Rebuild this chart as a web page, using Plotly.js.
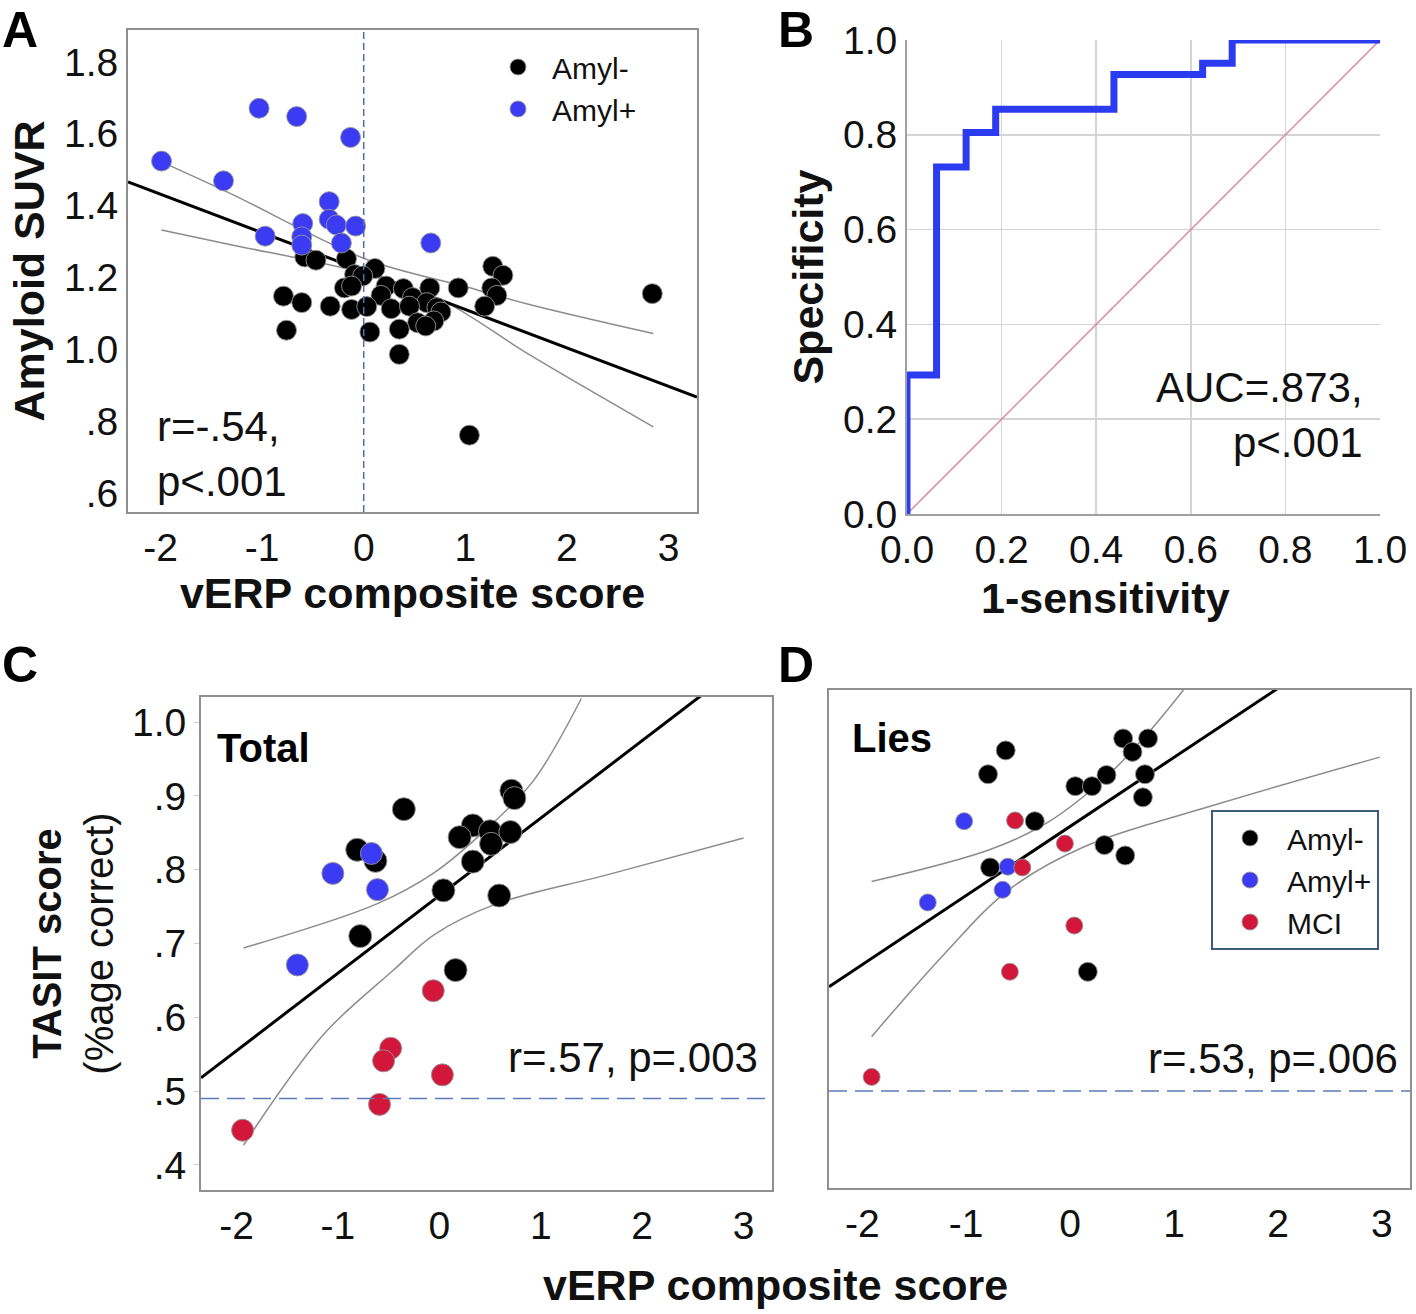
<!DOCTYPE html>
<html><head><meta charset="utf-8">
<script src="https://cdn.plot.ly/plotly-3.0.1.min.js"></script>
<style>html,body{margin:0;padding:0;background:#fff}</style>
</head><body><div id="chart" style="width:1416px;height:1314px"></div>
<script>
// ---------- Panel A : vERP composite vs Amyloid SUVR ----------
const amylNegXA = [-0.58,-0.47,-0.17,0.11,-0.09,-0.01,-0.19,-0.12,0.22,0.17,0.39,0.48,0.65,0.93,0.62,0.72,0.76,
  -0.79,-0.61,-0.33,-0.12,0.03,0.27,0.45,0.53,0.69,0.61,-0.76,0.06,0.35,0.35,1.27,1.37,1.26,1.31,1.19,2.84,1.04];
const amylNegYA = [1.257,1.248,1.252,1.225,1.208,1.204,1.171,1.176,1.176,1.150,1.169,1.144,1.171,1.171,1.130,1.116,1.104,
  1.148,1.130,1.120,1.111,1.119,1.113,1.120,1.074,1.079,1.065,1.053,1.048,1.056,0.986,1.231,1.206,1.171,1.150,1.120,1.155,0.761];
const amylPosXA = [-1.99,-1.03,-0.66,-0.13,-1.38,-0.34,-0.34,-0.27,-0.60,-0.08,-0.97,-0.61,-0.61,-0.22,0.66];
const amylPosYA = [1.524,1.671,1.648,1.590,1.469,1.411,1.362,1.346,1.350,1.343,1.315,1.313,1.290,1.296,1.296];
const fitXA = [-2.32, 3.28];
const fitYA = [1.466, 0.867];
const ciUpXA = [-1.99,-1.32,0.03,0.98,1.63,2.85];
const ciUpYA = [1.522,1.435,1.250,1.176,1.125,1.044];
const ciLoXA = [-1.99,-1.32,0.03,0.78,1.63,2.85];
const ciLoYA = [1.332,1.292,1.210,1.135,0.985,0.784];
const refLineXA = 0;
const yTickValsA = [0.6,0.8,1.0,1.2,1.4,1.6,1.8];
const yTickTextA = ['.6','.8','1.0','1.2','1.4','1.6','1.8'];
const xTickVals = [-2,-1,0,1,2,3];
const xTickText = ['-2','-1','0','1','2','3'];

// ---------- Panel B : ROC ----------
const rocX = [0, 0.0625, 0.125, 0.1875, 0.4375, 0.625, 0.6875, 1.0];
const rocY = [0, 0.293, 0.732, 0.805, 0.854, 0.927, 0.951, 1.0];
const diagX = [0, 1];
const diagY = [0, 1];
const rocTicks = [0,0.2,0.4,0.6,0.8,1.0];

// ---------- Panel C : Total ----------
const amylNegXC = [0.71,0.74,-0.35,0.33,0.50,0.70,0.20,0.51,-0.81,-0.63,0.33,0.04,0.59,-0.78,0.16];
const amylNegYC = [0.907,0.897,0.882,0.860,0.852,0.851,0.844,0.835,0.827,0.812,0.811,0.772,0.765,0.710,0.664];
const amylPosXC = [-0.67,-1.05,-0.61,-1.40];
const amylPosYC = [0.822,0.795,0.773,0.671];
const mciXC = [-0.06,-0.48,-0.55,0.03,-0.59,-1.94];
const mciYC = [0.636,0.558,0.541,0.522,0.482,0.447];
const fitXC = [-2.35, 2.62];
const fitYC = [0.518, 1.040];
const ciUpXC = [-1.93,-0.61,-0.05,0.48,0.93,1.40];
const ciUpYC = [0.694,0.754,0.796,0.857,0.921,1.032];
const ciLoXC = [-1.93,-1.14,-0.46,-0.05,0.55,1.68,3.00];
const ciLoYC = [0.427,0.577,0.663,0.712,0.753,0.794,0.843];
const chanceC = 0.49;
const yTickValsC = [0.4,0.5,0.6,0.7,0.8,0.9,1.0];
const yTickTextC = ['.4','.5','.6','.7','.8','.9','1.0'];

// ---------- Panel D : Lies ----------
const amylNegXD = [0.51,0.75,0.60,-0.62,-0.79,0.72,0.35,0.05,0.21,0.70,-0.34,0.33,0.53,-0.77,0.17];
const amylNegYD = [0.973,0.973,0.955,0.957,0.925,0.925,0.924,0.909,0.909,0.894,0.862,0.830,0.816,0.800,0.660];
const amylPosXD = [-1.02,-0.60,-0.65,-1.37];
const amylPosYD = [0.862,0.801,0.770,0.753];
const mciXD = [-0.53,-0.05,-0.46,0.04,-0.58,-1.91];
const mciYD = [0.863,0.832,0.800,0.722,0.660,0.519];
const fitXD = [-2.32, 2.05];
const fitYD = [0.640, 1.045];
const ciUpXD = [-1.91,-0.77,-0.22,0.36,0.76,1.09];
const ciUpYD = [0.781,0.824,0.860,0.923,0.982,1.038];
const ciLoXD = [-1.91,-1.21,-0.59,0.14,1.42,2.98];
const ciLoYD = [0.573,0.684,0.770,0.828,0.885,0.948];
const chanceD = 0.5;

// ---------- styling ----------
const FONT = 'Liberation Sans, Arial, Helvetica, sans-serif';
const W = 1416, H = 1314;
const BLACK = '#000000', BLUE = '#3b3bf4', RED = '#d3173b';
const GRAYCI = '#8c8c8c';
const dotLine = {color:'rgba(150,150,150,0.9)', width:1};
const px = (a,b)=>[a/W, b/W];
const py = (top,bottom)=>[1-bottom/H, 1-top/H];

function pts(x,y,xa,ya,color,size,name,legend,show){
  return {x:x,y:y,xaxis:xa,yaxis:ya,type:'scatter',mode:'markers',name:name,
    legend:legend, showlegend:show,
    marker:{color:color,size:size,line:dotLine}, hoverinfo:'x+y'};
}
function ln(x,y,xa,ya,color,width,shape){
  return {x:x,y:y,xaxis:xa,yaxis:ya,type:'scatter',mode:'lines',showlegend:false,
    line:{color:color,width:width,shape:shape||'linear',smoothing:1}, hoverinfo:'skip'};
}

const traces = [
  // A
  ln(ciUpXA,ciUpYA,'x','y',GRAYCI,1.5,'spline'),
  ln(ciLoXA,ciLoYA,'x','y',GRAYCI,1.5,'spline'),
  ln(fitXA,fitYA,'x','y','#000',3),
  pts(amylNegXA,amylNegYA,'x','y',BLACK,20,'Amyl-','legend',true),
  pts(amylPosXA,amylPosYA,'x','y',BLUE,20,'Amyl+','legend',true),
  // B
  ln(diagX,diagY,'x2','y2','#d98a9b',1.5),
  {x:rocX,y:rocY,xaxis:'x2',yaxis:'y2',type:'scatter',mode:'lines',showlegend:false,
    line:{color:'#2b3cf0',width:7,shape:'vh'},hoverinfo:'x+y'},
  // C
  ln(ciUpXC,ciUpYC,'x3','y3',GRAYCI,1.5,'spline'),
  ln(ciLoXC,ciLoYC,'x3','y3',GRAYCI,1.5,'spline'),
  ln(fitXC,fitYC,'x3','y3','#000',3),
  pts(amylNegXC,amylNegYC,'x3','y3',BLACK,23,'Amyl-','legend',false),
  pts(amylPosXC,amylPosYC,'x3','y3',BLUE,22,'Amyl+','legend',false),
  pts(mciXC,mciYC,'x3','y3',RED,22,'MCI','legend',false),
  // D
  ln(ciUpXD,ciUpYD,'x4','y4',GRAYCI,1.5,'spline'),
  ln(ciLoXD,ciLoYD,'x4','y4',GRAYCI,1.5,'spline'),
  ln(fitXD,fitYD,'x4','y4','#000',3),
  pts(amylNegXD,amylNegYD,'x4','y4',BLACK,19,'Amyl-','legend2',true),
  pts(amylPosXD,amylPosYD,'x4','y4',BLUE,17,'Amyl+','legend2',true),
  pts(mciXD,mciYD,'x4','y4',RED,17,'MCI','legend2',true)
];

const tickFont = {family:FONT,size:39,color:'#111'};
const titleFont = {family:FONT,size:43,color:'#111'};
const frame = {showline:true,mirror:true,linecolor:'#8f8f8f',linewidth:2,showgrid:false,zeroline:false,ticks:''};
const letterFont = {family:FONT,size:50,color:'#000'};

const layout = {
  width:W,height:H,margin:{l:0,r:0,t:0,b:0},paper_bgcolor:'#fff',plot_bgcolor:'#fff',
  font:{family:FONT,color:'#111'},
  xaxis:Object.assign({},frame,{domain:px(128,697),range:[-2.32,3.28],anchor:'y',
    tickvals:xTickVals,ticktext:xTickText,tickfont:tickFont,
    title:{text:'<b>vERP composite score</b>',font:titleFont,standoff:6}}),
  yaxis:Object.assign({},frame,{domain:py(30,512),range:[0.547,1.889],anchor:'x',
    tickvals:yTickValsA,ticktext:yTickTextA,tickfont:tickFont,
    title:{text:'<b>Amyloid SUVR</b>',font:titleFont,standoff:6}}),
  xaxis2:{domain:px(907,1380),range:[0,1],anchor:'y2',showline:true,linecolor:'#a0a0a0',linewidth:2,
    showgrid:true,gridcolor:'#d4d4d4',gridwidth:1.5,zeroline:false,ticks:'',
    tickvals:rocTicks,tickformat:'.1f',tickfont:tickFont},
  yaxis2:{domain:py(40,514),range:[0,1],anchor:'x2',showline:true,linecolor:'#a0a0a0',linewidth:2,
    showgrid:true,gridcolor:'#d4d4d4',gridwidth:1.5,zeroline:false,ticks:'',
    tickvals:rocTicks,tickformat:'.1f',tickfont:tickFont,
    title:{text:'<b>Specificity</b>',font:titleFont,standoff:6}},
  xaxis3:Object.assign({},frame,{domain:px(201,772),range:[-2.35,3.28],anchor:'y3',
    tickvals:xTickVals,ticktext:xTickText,tickfont:tickFont}),
  yaxis3:Object.assign({},frame,{domain:py(697,1190),range:[0.366,1.034],anchor:'x3',
    tickvals:yTickValsC,ticktext:yTickTextC,tickfont:tickFont,ticks:'outside',ticklen:5,tickcolor:'#cfcfcf',
    title:{text:'<b>TASIT score</b><br>(%age correct)',font:{family:FONT,size:40,color:'#111'},standoff:6}}),
  xaxis4:Object.assign({},frame,{domain:px(829,1410),range:[-2.32,3.27],anchor:'y4',
    tickvals:xTickVals,ticktext:xTickText,tickfont:tickFont}),
  yaxis4:Object.assign({},frame,{domain:py(690,1188),range:[0.370,1.038],anchor:'x4',showticklabels:false}),
  legend:{x:484/W,y:1-41/H,xanchor:'left',yanchor:'top',bgcolor:'rgba(0,0,0,0)',borderwidth:0,
    font:{family:FONT,size:30,color:'#111'},tracegroupgap:0,itemwidth:58},
  legend2:{x:1211/W,y:1-810/H,xanchor:'left',yanchor:'top',bgcolor:'#fff',bordercolor:'#3e5b7c',borderwidth:2,
    font:{family:FONT,size:30,color:'#111'},tracegroupgap:0,itemwidth:64},
  shapes:[
    {type:'line',xref:'x',yref:'y domain',x0:refLineXA,x1:refLineXA,y0:0,y1:1,
      line:{color:'#4f70b0',width:1.5,dash:'7px,4px'}},
    {type:'line',xref:'x3 domain',yref:'y3',x0:0,x1:1,y0:chanceC,y1:chanceC,
      line:{color:'#5a7bb5',width:1.5,dash:'18px,8px'}},
    {type:'line',xref:'x4 domain',yref:'y4',x0:0,x1:1,y0:chanceD,y1:chanceD,
      line:{color:'#5a7bb5',width:1.5,dash:'18px,8px'}}
  ],
  annotations:[
    {text:'<b>A</b>',xref:'paper',yref:'paper',x:0,y:1,xanchor:'left',yanchor:'top',showarrow:false,font:letterFont},
    {text:'<b>B</b>',xref:'paper',yref:'paper',x:776/W,y:1,xanchor:'left',yanchor:'top',showarrow:false,font:letterFont},
    {text:'<b>C</b>',xref:'paper',yref:'paper',x:0,y:1-665/H,xanchor:'left',yanchor:'middle',showarrow:false,font:letterFont},
    {text:'<b>D</b>',xref:'paper',yref:'paper',x:776/W,y:1-665/H,xanchor:'left',yanchor:'middle',showarrow:false,font:letterFont},
    {text:'r=-.54,<br>p&lt;.001',xref:'x domain',yref:'y domain',x:0.047,y:0.12,xanchor:'left',yanchor:'middle',align:'left',
      showarrow:false,font:{family:FONT,size:42,color:'#111'}},
    {text:'AUC=.873,<br>p&lt;.001',xref:'x2 domain',yref:'y2 domain',x:0.968,y:0.209,xanchor:'right',yanchor:'middle',align:'right',
      showarrow:false,font:{family:FONT,size:42,color:'#111'}},
    {text:'<b>1-sensitivity</b>',xref:'paper',yref:'paper',x:1105/W,y:1-598/H,xanchor:'center',yanchor:'middle',
      showarrow:false,font:titleFont},
    {text:'<b>Total</b>',xref:'x3 domain',yref:'y3 domain',x:0.0245,y:0.897,xanchor:'left',yanchor:'middle',
      showarrow:false,font:{family:FONT,size:40,color:'#000'}},
    {text:'r=.57, p=.003',xref:'x3 domain',yref:'y3 domain',x:0.979,y:0.268,xanchor:'right',yanchor:'middle',
      showarrow:false,font:{family:FONT,size:42,color:'#111'}},
    {text:'<b>Lies</b>',xref:'x4 domain',yref:'y4 domain',x:0.036,y:0.904,xanchor:'left',yanchor:'middle',
      showarrow:false,font:{family:FONT,size:40,color:'#000'}},
    {text:'r=.53, p=.006',xref:'x4 domain',yref:'y4 domain',x:0.983,y:0.261,xanchor:'right',yanchor:'middle',
      showarrow:false,font:{family:FONT,size:42,color:'#111'}},
    {text:'<b>vERP composite score</b>',xref:'paper',yref:'paper',x:776/W,y:1-1285/H,xanchor:'center',yanchor:'middle',
      showarrow:false,font:titleFont}
  ]
};

Plotly.newPlot('chart',traces,layout,{staticPlot:true,displayModeBar:false});
</script></body></html>
